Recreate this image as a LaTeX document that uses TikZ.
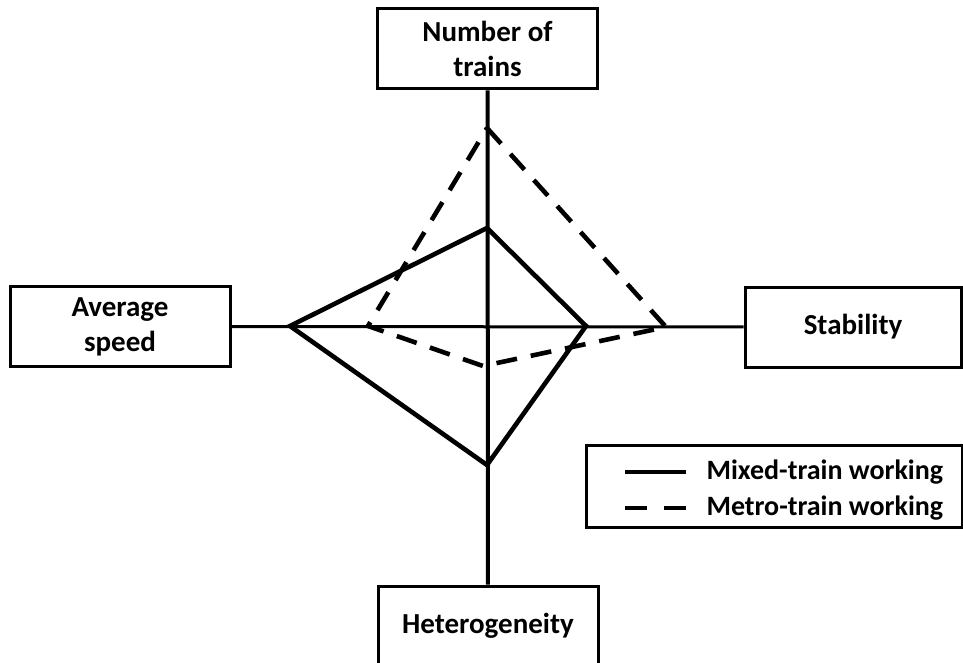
\documentclass[tikz,border=0pt]{standalone}
\usepackage{fontspec}
\setmainfont{Carlito}
\usepackage{tikz}
\usetikzlibrary{calc, positioning}

\begin{document}
\begin{tikzpicture}[x=1pt, y=-1pt,
                        axisbox/.style={draw, line width=3pt, minimum width=220pt, minimum height=80pt,
                                align=center, font=\fontsize{29}{35}\selectfont\bfseries},
                        mixed/.style={line width=4.6pt, line join=miter},
                        metro/.style={line width=4.6pt, dash pattern=on 21pt off 14pt},
                        legendtext/.style={anchor=west, font=\fontsize{28}{35}\selectfont\bfseries}]
                        \clip (0, 0) rectangle (963, 663);

                        \node[axisbox] (trains) at (487.5, 49) {Number of\\trains};
                        \node[axisbox] (speed) at (120, 326.5) {Average\\speed};
                        \node[axisbox, minimum width=216pt] (stability) at (853, 327) {Stability};
                        \node[axisbox] (hetero) at (488, 626) {Heterogeneity};

                        \draw[line width=4pt] (trains) -- (hetero);
                        \draw[line width=3pt] (speed) -- (stability);

                        \coordinate (m1) at (487, 228);
                        \coordinate (m2) at (586, 326);
                        \coordinate (m3) at (487, 465);
                        \coordinate (m4) at (290, 326);
                        \draw[mixed] (m1) -- (m2) -- (m3) -- (m4) -- cycle;

                        \coordinate (d1) at (487, 128);
                        \coordinate (d2) at (666, 327);
                        \coordinate (d3) at (483, 366);
                        \coordinate (d4) at (368, 326);
                        \draw[metro] (d1) -- (d2) -- (d3) -- (d4) -- cycle;

                        \node[draw, line width=3pt, minimum width=376pt, minimum height=82pt] (legend) at (774, 486) {};
                        \coordinate (l1) at (625, 472);
                        \coordinate (l2) at (625, 508);
                        \draw[mixed] (l1) -- ++(61, 0) coordinate (l1e);
                        \draw[metro, dash pattern=on 22pt off 17pt] (l2) -- ++(61, 0) coordinate (l2e);
                        \node[legendtext] (mixtxt) at ($(l1e)+(17, 0)$) {Mixed-train working};
                        \node[legendtext] (metrotxt) at ($(l2e)+(17, 0)$) {Metro-train working};
                    \end{tikzpicture}
\end{document}
